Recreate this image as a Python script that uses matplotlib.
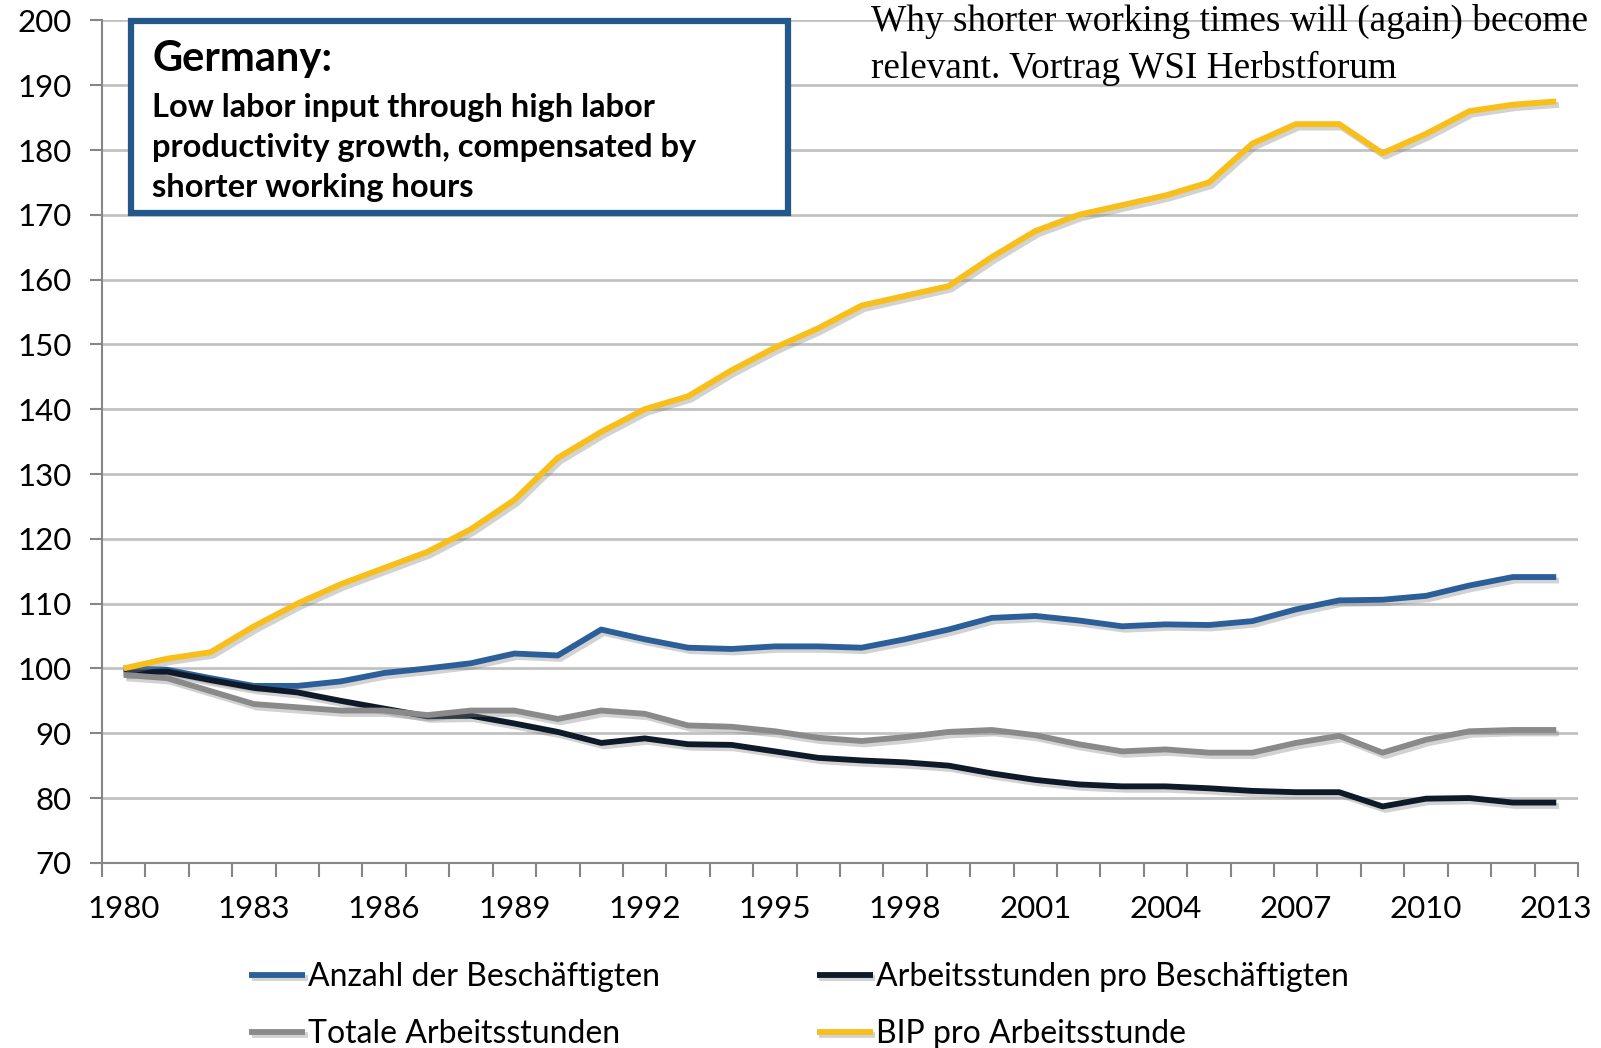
import numpy as np
import matplotlib.pyplot as plt
import matplotlib.patheffects as pe
from matplotlib.patches import Rectangle

years = list(range(1980, 2014))

beschaeftigte = [100, 99.8, 98.5, 97.3, 97.3, 98, 99.3, 100, 100.8, 102.3,
                 102, 106, 104.5, 103.2, 103, 103.4, 103.4, 103.2, 104.5, 106,
                 107.8, 108.1, 107.4, 106.5, 106.8, 106.7, 107.3, 109.1, 110.5, 110.6,
                 111.2, 112.8, 114.1, 114.1]
stunden_pro_kopf = [99.3, 99.5, 98.2, 97, 96.3, 95, 93.8, 92.6, 92.7, 91.5,
                    90.2, 88.5, 89.2, 88.3, 88.2, 87.2, 86.2, 85.8, 85.5, 85,
                    83.8, 82.8, 82.1, 81.8, 81.8, 81.5, 81.1, 80.9, 80.9, 78.7,
                    79.9, 80, 79.3, 79.3]
totale_stunden = [99, 98.5, 96.5, 94.5, 94, 93.5, 93.5, 92.8, 93.5, 93.5,
                  92.2, 93.5, 93, 91.2, 91, 90.3, 89.3, 88.8, 89.4, 90.2,
                  90.5, 89.7, 88.3, 87.2, 87.5, 87, 87, 88.5, 89.6, 87,
                  89, 90.3, 90.5, 90.5]
bip_pro_stunde = [100, 101.5, 102.5, 106.5, 110, 113, 115.5, 118, 121.5, 126,
                  132.5, 136.5, 140, 142, 146, 149.5, 152.5, 156, 157.5, 159,
                  163.5, 167.5, 170, 171.5, 173, 175, 181, 184, 184, 179.5,
                  182.5, 186, 187, 187.5]

labels = ["Anzahl der Beschäftigten", "Arbeitsstunden pro Beschäftigten",
          "Totale Arbeitsstunden", "BIP pro Arbeitsstunde"]
colors = ["#2c5f9a", "#0e1a2a", "#8a8a8a", "#f8be1a"]
series = [beschaeftigte, stunden_pro_kopf, totale_stunden, bip_pro_stunde]

plt.rcParams['font.family'] = ['Lato', 'DejaVu Sans']

fig = plt.figure(figsize=(16.01, 10.48), dpi=100)
ax = fig.add_axes([0.0637, 0.1767, 0.9219, 0.8038])

shadow = [pe.SimpleLineShadow(offset=(2, -2.5), shadow_color='#808080', alpha=0.35),
          pe.Normal()]
handles = []
for vals, lab, col in zip(series, labels, colors):
   h, = ax.plot(years, vals, color=col, lw=4.2, label=lab, solid_capstyle='butt',
                path_effects=shadow, zorder=3)
   handles.append(h)

ax.set_ylim(70, 200)
ax.set_xlim(1979.5, 2013.5)
ax.set_yticks(np.arange(70, 201, 10))
ax.set_xticks(years[::3])
ax.set_xticks(np.arange(1979.5, 2014, 1), minor=True)
ax.tick_params(axis='x', which='major', length=0, pad=23, labelsize=22.5)
ax.tick_params(axis='x', which='minor', length=10, width=1.5, color='#868686')
ax.tick_params(axis='y', length=9, width=1.5, color='#868686', labelsize=22.5, pad=13)
ax.grid(axis='y', color='#c2c2c2', lw=2)
ax.set_axisbelow(True)
for s in ['top', 'right']:
   ax.spines[s].set_visible(False)
for s in ['left', 'bottom']:
   ax.spines[s].set_color('#868686')
   ax.spines[s].set_linewidth(1.5)

# text box top left
fig.patches.append(Rectangle((131 / 1601, 1 - 213 / 1048), 657 / 1601, 192 / 1048,
                             transform=fig.transFigure, fill=True, facecolor='white',
                             edgecolor='#24578a', lw=4.5, zorder=5))
fig.text(152 / 1601, 1 - 59 / 1048, "Germany:", fontsize=30, fontweight='bold',
         va='center', zorder=6)
box_lines = ["Low labor input through high labor",
             "productivity growth, compensated by",
             "shorter working hours"]
for i, t in enumerate(box_lines):
   fig.text(152 / 1601, 1 - (107 + i * 40.5) / 1048, t, fontsize=23.5, fontweight='bold',
            va='center', zorder=6)

fig.text(871 / 1601, 1 - 4 / 1048,
         "Why shorter working times will (again) become\nrelevant. Vortrag WSI Herbstforum",
         family='Liberation Serif', fontsize=26.8, va='top', ha='left', linespacing=1.42)

order = [0, 2, 1, 3]
fig.legend([handles[i] for i in order], [labels[i] for i in order], ncol=2,
           loc='upper left', bbox_to_anchor=(233 / 1601, 1 - 946 / 1048), frameon=False,
           fontsize=23, handlelength=1.75, handletextpad=0.1, columnspacing=4.9,
           labelspacing=0.85, borderpad=0)

fig.savefig("out.png", dpi=100)
